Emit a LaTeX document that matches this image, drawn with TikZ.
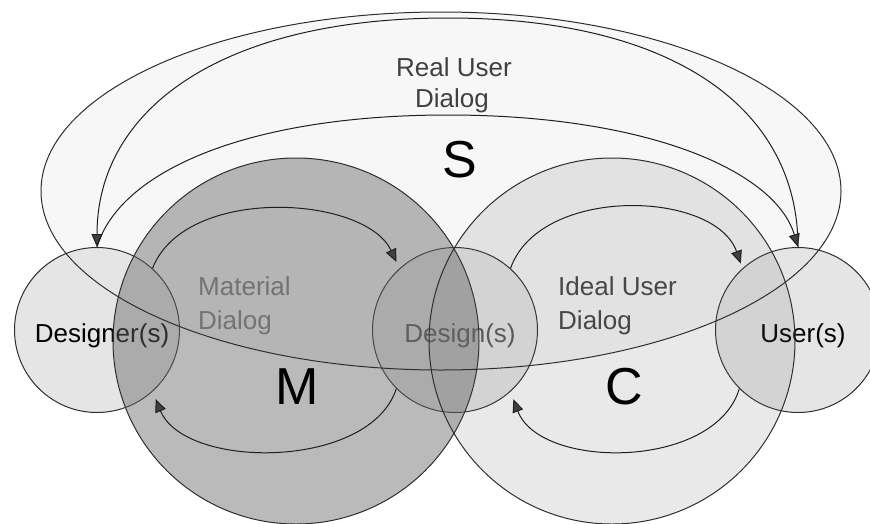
\documentclass[tikz,border=0pt]{standalone}
\usepackage{fontspec}
\setmainfont{Liberation Sans}
\usetikzlibrary{arrows.meta}

\tikzset{
  rim/.style={draw=black!82, line width=1pt},
  party/.style={rim, circle, fill=black!10, minimum size=165pt, inner sep=0pt},
  sphere/.style={rim, circle, fill=black!60, minimum size=366pt, inner sep=0pt},
  dialog/.style={draw=black!88, line width=1pt,
    -{Triangle[length=13pt, width=11pt, fill=black!75]}},
  lbl/.style={font=\fontsize{26}{33}\selectfont, inner sep=0pt},
  big/.style={font=\fontsize{52}{56}\selectfont, inner sep=0pt},
}

\begin{document}
\begin{tikzpicture}[x=1pt, y=-1pt]
  %% ── Frame ────────────────────────────────────────────────
  \useasboundingbox (0,0) rectangle (870,523);
  \clip (0,0) rectangle (870,523);

  %% ── S: shading of the system ellipse ─────────────────────
  \fill[gray!6] (441,191) ellipse [x radius=400, y radius=179];

  %% ── Parties (under the two spheres) ──────────────────────
  \node[party] (dsgnr) at (97,330) {};
  \node[party] (dsgn)  at (455,330) {};
  \node[party] (usr)   at (798,330) {};
  \node[lbl, anchor=base]              (dsgnrlbl) at (102,342) {Designer(s)};
  \node[lbl, anchor=base, text=black!65] (dsgnlbl) at (460,342) {Design(s)};
  \node[lbl, anchor=base]              (usrlbl)   at (803,342) {User(s)};

  %% ── M and C spheres ──────────────────────────────────────
  \node[sphere, fill opacity=.45] (mat)  at (296,341) {};
  \node[sphere, fill opacity=.14] (cons) at (612,341) {};

  %% ── S: outline ───────────────────────────────────────────
  \draw[rim] (441,191) ellipse [x radius=400, y radius=179];

  %% ── Real user dialog ─────────────────────────────────────
  \coordinate (realtop) at (448,18);
  \coordinate (reallow) at (448,115);
  \draw[dialog] (usr.north) .. controls (798,110) and (676,18) .. (realtop)
                            .. controls (220,18) and (97,110) .. (dsgnr.north);
  \draw[dialog] (dsgnr.north) .. controls (120,170) and (250,115) .. (reallow)
                              .. controls (645,115) and (775,170) .. (usr.north);
  \node[lbl, anchor=base, text=black!75] (reallbl1) at (454,76)  {Real User};
  \node[lbl, anchor=base, text=black!75] (reallbl2) at (452,107) {Dialog};

  %% ── Material dialog ──────────────────────────────────────
  \draw[dialog, shorten >=7pt] (dsgnr.48) .. controls (185,185) and (365,195) .. (dsgn.132);
  \draw[dialog, shorten >=8pt] (dsgn.225) .. controls (370,470) and (185,470) .. (dsgnr.-48);
  \node[lbl, anchor=base west, text=black!55] (matlbl1) at (198,295) {Material};
  \node[lbl, anchor=base west, text=black!55] (matlbl2) at (198,329) {Dialog};

  %% ── Ideal user dialog ────────────────────────────────────
  \draw[dialog, shorten >=5pt] (dsgn.48) .. controls (540,185) and (715,190) .. (usr.132);
  \draw[dialog, shorten >=8pt] (usr.225) .. controls (715,470) and (540,470) .. (dsgn.-48);
  \node[lbl, anchor=base west, text=black!72] (idlbl1) at (558,295) {Ideal User};
  \node[lbl, anchor=base west, text=black!72] (idlbl2) at (558,329) {Dialog};

  %% ── Big letters ──────────────────────────────────────────
  \node[big, anchor=base] (slbl) at (460,177) {S};
  \node[big, anchor=base] (mlbl) at (297,404) {M};
  \node[big, anchor=base] (clbl) at (624,404) {C};
\end{tikzpicture}
\end{document}
